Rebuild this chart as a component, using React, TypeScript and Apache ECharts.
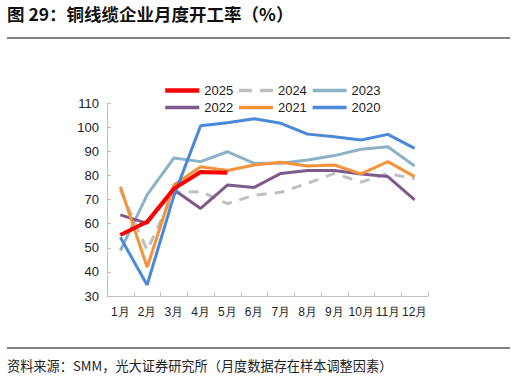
import React, { useEffect, useRef } from "react";
import * as echarts from "echarts";

const months = ["1月", "2月", "3月", "4月", "5月", "6月", "7月", "8月", "9月", "10月", "11月", "12月"];
const s2025 = [55.3, 60.8, 74.5, 81.4, 81.1];
const s2024 = [74, 49, 72.8, 73.3, 68.3, 71.8, 73, 76.7, 80.8, 77.2, 80.8, 78.6];
const s2023 = [48.8, 71.9, 87.2, 85.7, 89.8, 85, 85, 86.4, 88.2, 90.8, 91.9, 83.9];
const s2022 = [63.6, 60.1, 74, 66.3, 76, 75, 80.8, 82, 82, 80.6, 79.5, 69.8];
const s2021 = [75.3, 41.9, 76, 83.6, 82, 84.3, 85.4, 83.9, 84.3, 80.6, 85.7, 79.5];
const s2020 = [54.3, 34.6, 71.5, 100.6, 101.8, 103.5, 101.6, 97.1, 96, 94.7, 97, 91.2];
const yTicks = { min: 30, max: 110, interval: 10 };

const titleText = "图 29：铜线缆企业月度开工率（%）";
const sourceText = "资料来源：SMM，光大证券研究所（月度数据存在样本调整因素）";

export default function App() {
  const ref = useRef<HTMLDivElement>(null);
  useEffect(() => {
    document.body.style.margin = "0";
    const chart = echarts.init(ref.current!, undefined, { renderer: "svg" });
    const mk = (name: string, data: number[], color: string, width: number, z: number, dashed?: boolean) => ({
      name,
      type: "line",
      data,
      symbol: "none",
      z,
      lineStyle: { color, width, type: dashed ? [10, 8] : "solid" },
      itemStyle: { color },
    });
    const leg = (name: string, width: number, dashed?: boolean) => ({
      name,
      lineStyle: { width, type: dashed ? [13, 8] : "solid" },
    });
    chart.setOption({
      animation: false,
      backgroundColor: "#ffffff",
      textStyle: { fontFamily: "Liberation Sans, Arial, sans-serif" },
      legend: {
        left: 158,
        top: 79,
        width: 240,
        itemGap: 4,
        itemWidth: 34,
        itemHeight: 13,
        itemStyle: { opacity: 0, borderWidth: 0 },
        textStyle: { fontSize: 13, color: "#222", fontFamily: "Liberation Sans, Arial, sans-serif" },
        data: [
          leg("2025", 4.5),
          leg("2024", 3.5, true),
          leg("2023", 3.5),
          leg("2022", 3.5),
          leg("2021", 3.5),
          leg("2020", 3.5),
        ],
      },
      grid: { left: 107, right: 88, top: 103, bottom: 85, containLabel: false },
      xAxis: {
        type: "category",
        data: months,
        boundaryGap: true,
        axisLine: { lineStyle: { color: "#BFBFBF", width: 1 } },
        axisTick: { show: true, inside: true, length: 4, alignWithLabel: false, lineStyle: { color: "#BFBFBF" } },
        axisLabel: { color: "#222", fontSize: 12, margin: 10, interval: 0 },
      },
      yAxis: {
        type: "value",
        min: yTicks.min,
        max: yTicks.max,
        interval: yTicks.interval,
        axisLine: { show: true, lineStyle: { color: "#BFBFBF", width: 1 } },
        axisTick: { show: true, inside: true, length: 4, lineStyle: { color: "#BFBFBF" } },
        splitLine: { show: false },
        axisLabel: { color: "#222", fontSize: 13, margin: 8 },
      },
      series: [
        mk("2025", s2025, "#FF0000", 4, 10),
        mk("2024", s2024, "#BFBFBF", 3, 4, true),
        mk("2023", s2023, "#8CB2C6", 3, 3),
        mk("2022", s2022, "#7E5A8C", 3, 5),
        mk("2021", s2021, "#F5923A", 3, 6),
        mk("2020", s2020, "#4A89DA", 3, 7),
      ],
      graphic: [
        {
          type: "text",
          left: 7,
          top: 5,
          style: {
            text: titleText,
            fill: "#111",
            font: "bold 17.5px 'Noto Sans CJK SC', sans-serif",
          },
        },
        { type: "line", shape: { x1: 7, y1: 38, x2: 510, y2: 38 }, style: { stroke: "#595959", lineWidth: 1.5 } },
        { type: "line", shape: { x1: 7, y1: 348, x2: 510, y2: 348 }, style: { stroke: "#595959", lineWidth: 1.5 } },
        {
          type: "text",
          left: 7,
          top: 359,
          style: {
            text: sourceText,
            fill: "#222",
            font: "13.2px 'Noto Sans CJK SC', sans-serif",
          },
        },
      ],
    });
    return () => chart.dispose();
  }, []);
  return <div ref={ref} style={{ width: 516, height: 381 }} />;
}
